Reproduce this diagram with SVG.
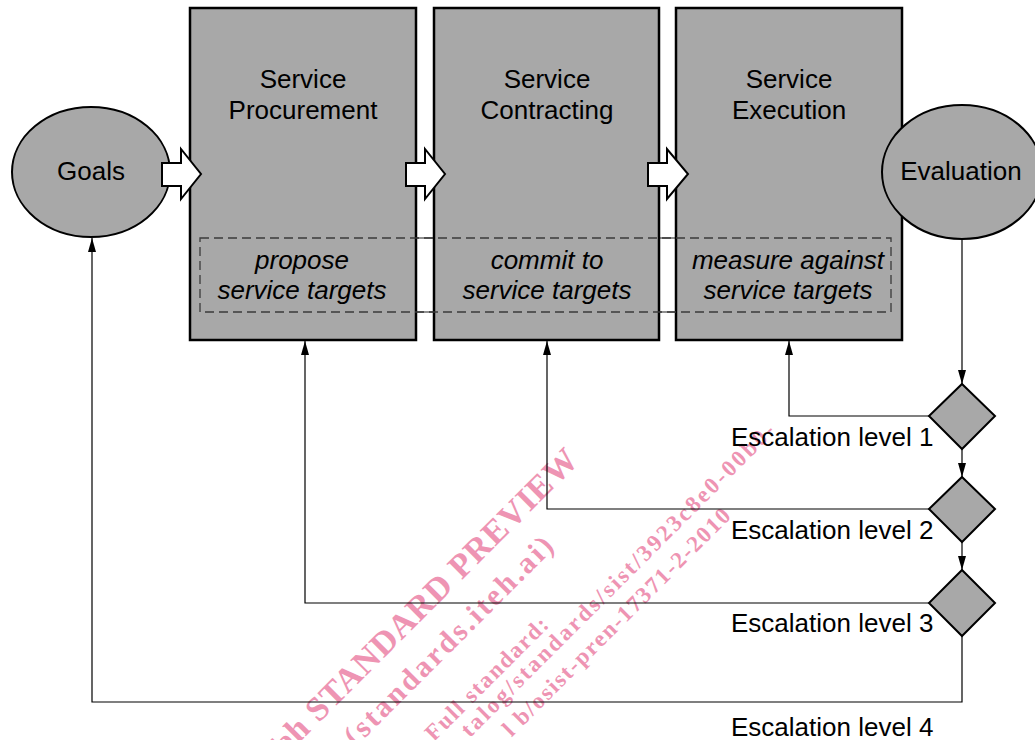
<svg xmlns="http://www.w3.org/2000/svg" width="1035" height="740" viewBox="0 0 1035 740">
  <style>
    .bg { fill: #ffffff; }
    .proc { fill: #a8a8a8; stroke: #000000; stroke-width: 2.5; }
    .term { fill: #a8a8a8; stroke: #000000; stroke-width: 2; }
    .gate { fill: #a8a8a8; stroke: #000000; stroke-width: 2; }
    .flow { fill: #ffffff; stroke: #000000; stroke-width: 2; stroke-linejoin: miter; }
    .band-solid { fill: none; stroke: #555555; stroke-width: 1.3; }
    .band-dash { fill: none; stroke: #3a3a3a; stroke-width: 1.3; stroke-dasharray: 9 5; }
    .link { fill: none; stroke: #000000; stroke-width: 1.2; marker-end: url(#tip); }
    .title { font-family: "Liberation Sans", Arial, Helvetica, sans-serif; font-size: 26px; fill: #000000; text-anchor: middle; }
    .note { font-family: "Liberation Sans", Arial, Helvetica, sans-serif; font-size: 26px; font-style: italic; fill: #000000; text-anchor: middle; }
    .level { font-family: "Liberation Sans", Arial, Helvetica, sans-serif; font-size: 26px; fill: #000000; }
    .stamp { font-family: "Liberation Serif", "Times New Roman", serif; font-weight: bold; fill: #ec82a6; opacity: 0.85; text-anchor: end; }
  </style>
  <defs>
    <marker id="tip" markerUnits="userSpaceOnUse" markerWidth="14" markerHeight="8" refX="14" refY="4" orient="auto">
      <path d="M0,0 L14,4 L0,8 Z" fill="#000000"/>
    </marker>
  </defs>

  <rect class="bg" x="0" y="0" width="1035" height="740"/>

  <!-- target band running behind the three process boxes -->
  <rect class="band-solid" x="200" y="238" width="691" height="74"/>

  <!-- process boxes -->
  <g id="procurement">
    <rect class="proc" x="190" y="8" width="226" height="332"/>
    <text class="title" x="303" y="88">Service</text>
    <text class="title" x="303" y="119">Procurement</text>
  </g>
  <g id="contracting">
    <rect class="proc" x="434" y="8" width="225" height="332"/>
    <text class="title" x="547" y="88">Service</text>
    <text class="title" x="547" y="119">Contracting</text>
  </g>
  <g id="execution">
    <rect class="proc" x="676" y="8" width="226" height="332"/>
    <text class="title" x="789" y="88">Service</text>
    <text class="title" x="789" y="119">Execution</text>
  </g>

  <!-- dashed band outline and its notes -->
  <g id="targets">
    <rect class="band-dash" x="200" y="238" width="691" height="74"/>
    <text class="note" x="302" y="269">propose</text>
    <text class="note" x="302" y="299">service targets</text>
    <text class="note" x="547" y="269">commit to</text>
    <text class="note" x="547" y="299">service targets</text>
    <text class="note" x="788" y="269">measure against</text>
    <text class="note" x="788" y="299">service targets</text>
  </g>

  <!-- start and end ellipses -->
  <g id="goals">
    <ellipse class="term" cx="91" cy="172" rx="79" ry="65"/>
    <text class="title" x="91" y="180">Goals</text>
  </g>
  <g id="evaluation">
    <ellipse class="term" cx="962" cy="172" rx="80" ry="67"/>
    <text class="title" x="961" y="180">Evaluation</text>
  </g>

  <!-- block arrows between stages -->
  <g id="stage-arrows">
    <path class="flow" d="M162,163 H181 V149 L201,174 L181,199 V186 H162 Z"/>
    <path class="flow" d="M406,163 H425 V149 L445,174 L425,199 V186 H406 Z"/>
    <path class="flow" d="M648,163 H667 V149 L688,174 L667,199 V186 H648 Z"/>
  </g>

  <!-- watermark -->
  <g id="stamp">
    <text class="stamp" font-size="34" textLength="445" lengthAdjust="spacing" transform="translate(580,462) rotate(-45)">iTeh STANDARD PREVIEW</text>
    <text class="stamp" font-size="30" textLength="282" lengthAdjust="spacing" transform="translate(555,548) rotate(-45)">(standards.iteh.ai)</text>
    <text class="stamp" font-size="23" textLength="164" lengthAdjust="spacing" transform="translate(550,626) rotate(-45)">Full standard:</text>
    <text class="stamp" font-size="23" textLength="433" lengthAdjust="spacing" transform="translate(776,432) rotate(-45)">talog/standards/sist/3923c8e0-00b0-</text>
    <text class="stamp" font-size="23" textLength="312" lengthAdjust="spacing" transform="translate(732,517) rotate(-45)">l b/osist-pren-17371-2-2010</text>
  </g>

  <!-- escalation connectors -->
  <g id="connectors">
    <path class="link" d="M962,239 V384"/>
    <path class="link" d="M962,449 V477"/>
    <path class="link" d="M962,542 V570"/>
    <path class="link" d="M929,416 H789 V341"/>
    <path class="link" d="M929,509 H547 V341"/>
    <path class="link" d="M929,603 H305 V341"/>
    <path class="link" d="M962,636 V702 H92 V238"/>
  </g>

  <!-- escalation decision points -->
  <g id="level1">
    <path class="gate" d="M962,384 L995,416 L962,449 L929,416 Z"/>
    <text class="level" x="731" y="446">Escalation level 1</text>
  </g>
  <g id="level2">
    <path class="gate" d="M962,477 L995,509 L962,542 L929,509 Z"/>
    <text class="level" x="731" y="539">Escalation level 2</text>
  </g>
  <g id="level3">
    <path class="gate" d="M962,570 L995,603 L962,636 L929,603 Z"/>
    <text class="level" x="731" y="632">Escalation level 3</text>
  </g>
  <g id="level4">
    <text class="level" x="731" y="736">Escalation level 4</text>
  </g>
</svg>
